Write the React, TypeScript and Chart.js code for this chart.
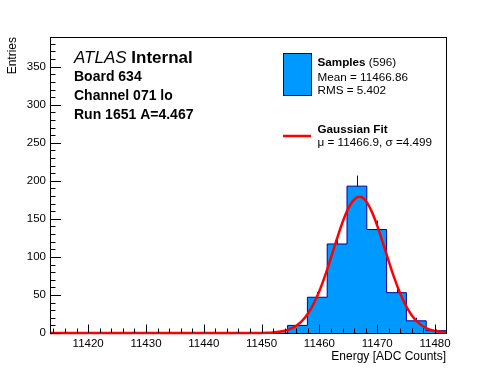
import React, { useEffect, useRef } from "react";
import { Chart, registerables } from "chart.js";

Chart.register(...registerables);

// Histogram binning (20 bins) and bin contents
const BIN_EDGES = [
  11413.4, 11416.825, 11420.25, 11423.675, 11427.1, 11430.525, 11433.95,
  11437.375, 11440.8, 11444.225, 11447.65, 11451.075, 11454.5, 11457.925,
  11461.35, 11464.775, 11468.2, 11471.625, 11475.05, 11478.475, 11481.9,
];
const BIN_COUNTS = [0, 0, 0, 0, 0, 0, 0, 0, 0, 0, 0, 0, 10, 47, 117, 193, 136, 53, 16, 3];

// Gaussian fit curve
const FIT_X = [
  11413.4, 11450, 11451, 11452, 11453, 11454, 11455, 11456, 11457, 11458, 11459, 11460,
  11461, 11462, 11463, 11464, 11465, 11466, 11467, 11468, 11469, 11470, 11471, 11472,
  11473, 11474, 11475, 11476, 11477, 11478, 11479, 11480, 11481, 11481.9,
];
const FIT_Y = [
  0, 0.16, 0.35, 0.74, 1.51, 2.94, 5.43, 9.52, 15.9, 25.3, 38.4, 55.3,
  75.8, 99.0, 122.9, 145.5, 163.8, 175.4, 179.0, 173.8, 160.5, 141.2, 118.2, 94.2,
  71.4, 51.5, 35.4, 23.1, 14.4, 8.5, 4.8, 2.6, 1.3, 0.7,
];

const X_MIN = 11413.4;
const X_MAX = 11481.9;
const Y_MAX = 389;
const X_TICKS = [11420, 11430, 11440, 11450, 11460, 11470, 11480];
const Y_TICKS = [0, 50, 100, 150, 200, 250, 300, 350];

const FONT = '"Liberation Sans", Arial, Helvetica, sans-serif';
const HIST_FILL = "#0099ff";
const HIST_LINE = "#000099";
const FIT_COLOR = "#ff0000";

const framePlugin = {
  id: "frameAndErrors",
  beforeDatasetsDraw(chart: any) {
    const { ctx, chartArea, scales } = chart;
    const { left, right, top, bottom } = chartArea;
    ctx.save();
    // error bars (lower half hidden by the filled histogram)
    ctx.strokeStyle = HIST_LINE;
    ctx.lineWidth = 1;
    for (let i = 0; i < BIN_COUNTS.length; i++) {
      const c = BIN_COUNTS[i];
      if (c <= 0) continue;
      const e = Math.sqrt(c);
      const xc = Math.round(scales.x.getPixelForValue((BIN_EDGES[i] + BIN_EDGES[i + 1]) / 2)) + 0.5;
      ctx.beginPath();
      ctx.moveTo(xc, scales.y.getPixelForValue(c - e));
      ctx.lineTo(xc, scales.y.getPixelForValue(c + e));
      ctx.stroke();
    }
    // frame
    ctx.strokeStyle = "#000";
    ctx.lineWidth = 1;
    ctx.strokeRect(Math.round(left) + 0.5, Math.round(top) + 0.5, Math.round(right - left), Math.round(bottom - top));
    ctx.restore();
  },
  afterDatasetsDraw(chart: any) {
    const { ctx, chartArea, scales } = chart;
    const { left, top, bottom } = chartArea;
    ctx.save();
    ctx.strokeStyle = "#000";
    ctx.lineWidth = 1;
    ctx.beginPath();
    // y axis ticks (inward)
    for (let v = 0; v <= Y_MAX; v += 10) {
      const py = Math.round(scales.y.getPixelForValue(v)) + 0.5;
      const len = v % 50 === 0 ? 11 : 5.5;
      ctx.moveTo(left, py);
      ctx.lineTo(left + len, py);
    }
    // x axis ticks (inward)
    for (let v = 11414; v <= X_MAX; v += 2) {
      const px = Math.round(scales.x.getPixelForValue(v)) + 0.5;
      const len = v % 10 === 0 ? 8.5 : 4.5;
      ctx.moveTo(px, bottom);
      ctx.lineTo(px, bottom - len);
    }
    ctx.stroke();
    ctx.beginPath();
    ctx.moveTo(Math.round(left) + 0.5, top);
    ctx.lineTo(Math.round(left) + 0.5, bottom);
    ctx.stroke();
    ctx.restore();
  },
  afterDraw(chart: any) {
    const { ctx, chartArea } = chart;
    const { right, top } = chartArea;
    ctx.save();
    ctx.fillStyle = "#000";
    ctx.textBaseline = "alphabetic";
    ctx.textAlign = "left";

    // ATLAS Internal
    ctx.font = `italic 17px ${FONT}`;
    ctx.fillText("ATLAS", 74, 63);
    const w = ctx.measureText("ATLAS ").width;
    ctx.font = `bold 17px ${FONT}`;
    ctx.fillText("Internal", 74 + w, 63);

    ctx.font = `bold 14px ${FONT}`;
    ctx.fillText("Board 634", 74, 81);
    ctx.fillText("Channel 071 lo", 74, 100);
    ctx.fillText("Run 1651 A=4.467", 74, 119);

    // legend
    ctx.fillStyle = HIST_FILL;
    ctx.fillRect(283, 53, 29, 43);
    ctx.strokeStyle = HIST_LINE;
    ctx.lineWidth = 1;
    ctx.strokeRect(283.5, 53.5, 28, 42);

    ctx.fillStyle = "#000";
    ctx.font = `bold 11.7px ${FONT}`;
    ctx.fillText("Samples", 317.5, 66);
    const ws = ctx.measureText("Samples").width;
    ctx.font = `11.7px ${FONT}`;
    ctx.fillText(" (596)", 317.5 + ws, 66);
    ctx.fillText("Mean = 11466.86", 317.5, 81);
    ctx.fillText("RMS = 5.402", 317.5, 94);

    ctx.strokeStyle = FIT_COLOR;
    ctx.lineWidth = 2.5;
    ctx.beginPath();
    ctx.moveTo(283, 136);
    ctx.lineTo(311, 136);
    ctx.stroke();

    ctx.font = `bold 11.7px ${FONT}`;
    ctx.fillText("Gaussian Fit", 317.5, 132.5);
    ctx.font = `11.7px ${FONT}`;
    ctx.fillText("\u03bc = 11466.9, \u03c3 =4.499", 317.5, 145.5);

    // axis titles
    ctx.font = `12px ${FONT}`;
    ctx.textAlign = "right";
    ctx.fillText("Energy [ADC Counts]", right, 359.5);

    ctx.translate(12.5, top);
    ctx.rotate(-Math.PI / 2);
    ctx.textAlign = "right";
    ctx.textBaseline = "middle";
    ctx.fillText("Entries", 0, 0);
    ctx.restore();
  },
};

export default function App() {
  const ref = useRef<HTMLCanvasElement | null>(null);

  useEffect(() => {
    if (!ref.current) return;
    const histPoints = BIN_COUNTS.map((c, i) => ({ x: BIN_EDGES[i + 1], y: c }));
    histPoints.unshift({ x: BIN_EDGES[0], y: 0 });
    const fitPoints = FIT_X.map((x, i) => ({ x, y: FIT_Y[i] }));

    const chart = new Chart(ref.current, {
      type: "line",
      data: {
        datasets: [
          {
            label: "Gaussian Fit",
            data: fitPoints,
            borderColor: FIT_COLOR,
            borderWidth: 2.5,
            pointRadius: 0,
            fill: false,
            cubicInterpolationMode: "monotone",
            clip: false,
            order: 0,
          } as any,
          {
            label: "Samples",
            data: histPoints,
            borderColor: HIST_LINE,
            backgroundColor: HIST_FILL,
            borderWidth: 1,
            pointRadius: 0,
            stepped: "after",
            fill: "origin",
            order: 1,
          } as any,
        ],
      },
      options: {
        animation: false,
        responsive: false,
        devicePixelRatio: 1,
        events: [],
        layout: { padding: { left: 0, top: 37, right: 50, bottom: 0 } },
        plugins: { legend: { display: false }, tooltip: { enabled: false } },
        scales: {
          x: {
            type: "linear",
            min: X_MIN,
            max: X_MAX,
            grid: { display: false, drawTicks: false },
            border: { display: false },
            afterBuildTicks: (s: any) => {
              s.ticks = X_TICKS.map((v) => ({ value: v }));
            },
            afterFit: (s: any) => {
              s.height = 39;
            },
            ticks: {
              color: "#000",
              font: { family: FONT, size: 11.5 },
              padding: 4,
              maxRotation: 0,
              autoSkip: false,
              callback: (v: any) => String(v),
            },
          },
          y: {
            type: "linear",
            min: 0,
            max: Y_MAX,
            grid: { display: false, drawTicks: false },
            border: { display: false },
            afterBuildTicks: (s: any) => {
              s.ticks = Y_TICKS.map((v) => ({ value: v }));
            },
            afterFit: (s: any) => {
              s.width = 50;
            },
            ticks: {
              color: "#000",
              font: { family: FONT, size: 11.5 },
              padding: 4,
              autoSkip: false,
              callback: (v: any) => String(v),
            },
          },
        },
      },
      plugins: [framePlugin],
    });
    return () => chart.destroy();
  }, []);

  return (
    <div style={{ position: "fixed", left: 0, top: 0, width: 496, height: 372, background: "#fff" }}>
      <canvas ref={ref} width={496} height={372} style={{ width: 496, height: 372, display: "block" }} />
    </div>
  );
}
